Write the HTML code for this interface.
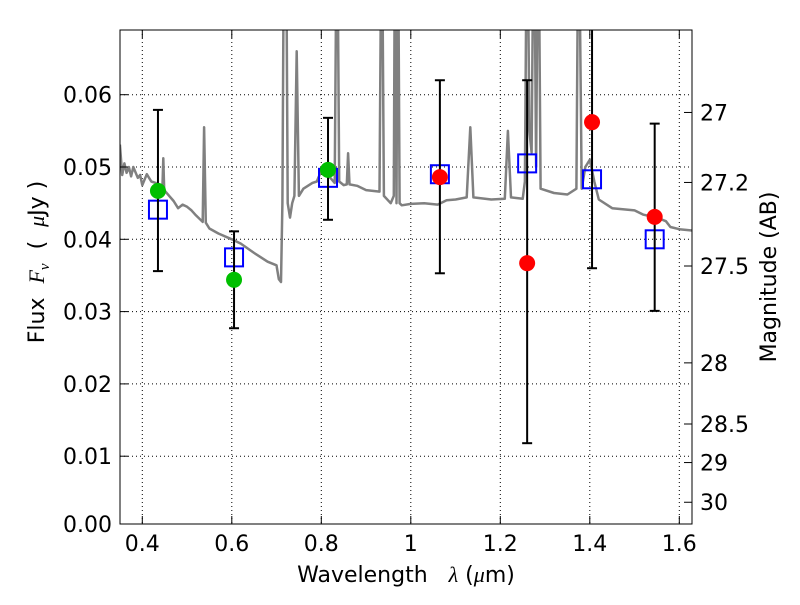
<!DOCTYPE html>
<html><head><meta charset="utf-8"><style>
body{margin:0;background:#fff}
svg text{font-family:"DejaVu Sans","Liberation Sans",sans-serif;font-size:22px;fill:#000}
</style></head><body>
<svg id="chart" width="800" height="600" xmlns="http://www.w3.org/2000/svg">
<defs><clipPath id="clip"><rect x="120" y="30" width="572" height="494"/></clipPath></defs>
<g id="grid"></g>
<g id="spec" clip-path="url(#clip)"></g>
<g id="marks" clip-path="url(#clip)"></g>
<rect x="120" y="30" width="572" height="494" fill="none" stroke="#000" stroke-width="1"/>
<g id="axes"></g>
<text x="406" y="582" text-anchor="middle">Wavelength&#160;&#160;&#160;<tspan font-style="italic" font-family="Liberation Serif">λ</tspan> (<tspan font-style="italic" font-family="Liberation Serif">μ</tspan>m)</text>
<text transform="translate(44,262) rotate(-90)" text-anchor="middle">Flux&#160;&#160;<tspan font-style="italic" font-family="Liberation Serif">F</tspan><tspan font-style="italic" font-family="Liberation Serif" font-size="15" dy="5">ν</tspan><tspan dy="-5">&#160;&#160;(&#160;&#160;</tspan><tspan font-style="italic" font-family="Liberation Serif">μ</tspan>Jy )</text>
<text transform="translate(776,277) rotate(-90)" text-anchor="middle">Magnitude (AB)</text>
</svg>
<script>
const xTicks=[0.4,0.6,0.8,1.0,1.2,1.4,1.6];
const xTickLabels=["0.4","0.6","0.8","1","1.2","1.4","1.6"];
const yTicks=[0,0.01,0.02,0.03,0.04,0.05,0.06];
const yTickLabels=["0.00","0.01","0.02","0.03","0.04","0.05","0.06"];
const magTicks=[27,27.2,27.5,28,28.5,29,30];
const magLabels=["27","27.2","27.5","28","28.5","29","30"];
const specWl=[0.35,0.355,0.36,0.365,0.37,0.375,0.38,0.39,0.395,0.40,0.41,0.42,0.43,0.44,0.445,0.447,0.449,0.46,0.47,0.48,0.49,0.50,0.51,0.52,0.535,0.538,0.542,0.55,0.57,0.6,0.62,0.65,0.68,0.70,0.705,0.71,0.713,0.717,0.721,0.725,0.73,0.735,0.74,0.745,0.75,0.76,0.78,0.79,0.80,0.81,0.82,0.83,0.835,0.84,0.85,0.857,0.86,0.863,0.88,0.9,0.93,0.935,0.94,0.955,0.962,0.965,0.968,0.971,0.975,0.98,1.0,1.03,1.06,1.08,1.1,1.125,1.133,1.14,1.18,1.21,1.217,1.224,1.25,1.255,1.26,1.265,1.27,1.275,1.28,1.285,1.29,1.32,1.35,1.37,1.375,1.382,1.39,1.40,1.41,1.42,1.45,1.5,1.52,1.55,1.57,1.58,1.60,1.63];
const specFlux=[0.0531,0.0489,0.0505,0.0492,0.050,0.0487,0.050,0.0485,0.0489,0.0475,0.049,0.048,0.0478,0.047,0.0471,0.0512,0.0468,0.0460,0.0453,0.0443,0.0448,0.0445,0.0440,0.0433,0.0424,0.0555,0.0423,0.0415,0.0408,0.0400,0.0394,0.0381,0.0369,0.0364,0.0345,0.0341,0.045,0.09,0.09,0.045,0.043,0.045,0.046,0.066,0.046,0.047,0.0478,0.048,0.0495,0.049,0.0485,0.0478,0.09,0.048,0.0475,0.0476,0.0519,0.0476,0.0474,0.0468,0.0466,0.09,0.046,0.045,0.046,0.09,0.045,0.09,0.045,0.0447,0.0449,0.0450,0.0448,0.0454,0.0455,0.0458,0.0555,0.0458,0.0455,0.0456,0.055,0.0458,0.0456,0.048,0.09,0.055,0.052,0.09,0.05,0.09,0.047,0.0464,0.0462,0.047,0.09,0.047,0.050,0.051,0.048,0.0455,0.0443,0.0440,0.0434,0.0430,0.0425,0.0417,0.0414,0.0412];
const bandWl=[0.435,0.605,0.815,1.065,1.26,1.405,1.545];
const obsFlux=[0.0467,0.0344,0.0496,0.0486,0.0367,0.0562,0.0431];
const errHigh=[0.0579,0.0411,0.0568,0.0620,0.0620,0.0800,0.0560];
const errLow=[0.0356,0.0277,0.0427,0.0353,0.0118,0.0360,0.0301];
const modelFlux=[0.0441,0.0375,0.0485,0.0490,0.0505,0.0483,0.0400];
const isGreen=[true,true,true,false,false,false,false];

const NS="http://www.w3.org/2000/svg";
const X=l=>142.3+(l-0.4)*447.5;
const Y=f=>528.5-f*7230;
function mk(tag,attrs,parent){const e=document.createElementNS(NS,tag);for(const k in attrs)e.setAttribute(k,attrs[k]);parent.appendChild(e);return e;}
const grid=document.getElementById('grid'),axes=document.getElementById('axes');
xTicks.forEach((t,i)=>{const x=X(t);
 const g=mk('line',{x1:x,x2:x,y1:30,y2:524,stroke:'#000','stroke-dasharray':'1,3','stroke-width':1},grid);
 
 
 mk('line',{x1:x,x2:x,y1:524,y2:516,stroke:'#000'},axes);mk('line',{x1:x,x2:x,y1:30,y2:38,stroke:'#000'},axes);
 const tx=mk('text',{x:x,y:551,'text-anchor':'middle'},axes);tx.textContent=xTickLabels[i];
 
 });
yTicks.forEach((t,i)=>{const y=Y(t);
 if(t>0){const g=mk('line',{x1:120,x2:692,y1:y,y2:y,stroke:'#000','stroke-dasharray':'1,3','stroke-width':1},grid);
 
 }
 const yy=Math.min(y,524);
 mk('line',{x1:120,x2:128,y1:yy,y2:yy,stroke:'#000'},axes);
 const tx=mk('text',{x:112,y:yy+8,'text-anchor':'end'},axes);tx.textContent=yTickLabels[i];
 
 });
magTicks.forEach((m,i)=>{const f=Math.pow(10,(23.9-m)/2.5);const y=Y(f);
 mk('line',{x1:692,x2:684,y1:y,y2:y,stroke:'#000'},axes);
 const tx=mk('text',{x:700,y:y+8},axes);tx.textContent=magLabels[i];
 
 });
const pts=specWl.map((l,i)=>X(l).toFixed(1)+','+Y(specFlux[i]).toFixed(1)).join(' ');
const pl=mk('polyline',{points:pts,fill:'none',stroke:'#808080','stroke-width':2.5,'stroke-linejoin':'round'},document.getElementById('spec'));


const marks=document.getElementById('marks');
bandWl.forEach((l,i)=>{const x=X(l);
 const s=mk('rect',{x:x-9,y:Y(modelFlux[i])-9,width:18,height:18,fill:'none',stroke:'#0000ff','stroke-width':2},marks);
 
 });
bandWl.forEach((l,i)=>{const x=X(l);
 const e=mk('g',{},marks);
 
 
 mk('line',{x1:x,x2:x,y1:Y(errHigh[i]),y2:Y(errLow[i]),stroke:'#000','stroke-width':2},e);
 mk('line',{x1:x-5,x2:x+5,y1:Y(errHigh[i]),y2:Y(errHigh[i]),stroke:'#000','stroke-width':2},e);
 mk('line',{x1:x-5,x2:x+5,y1:Y(errLow[i]),y2:Y(errLow[i]),stroke:'#000','stroke-width':2},e);
 const c=mk('circle',{cx:x,cy:Y(obsFlux[i]),r:8,fill:isGreen[i]?'#00bf00':'#ff0000'},marks);
 
 });
</script>
</body></html>
